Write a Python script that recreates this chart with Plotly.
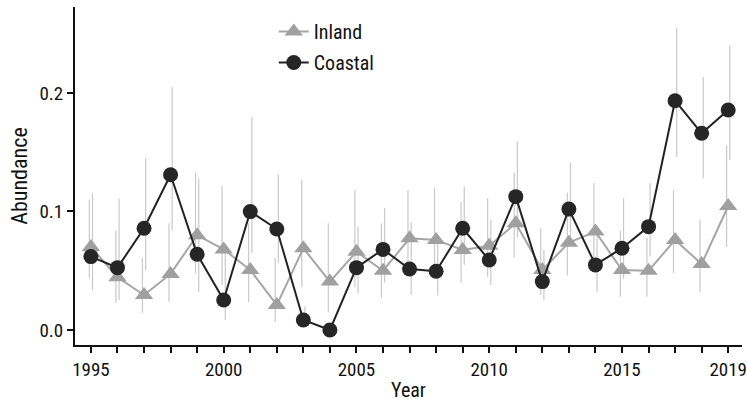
import plotly.graph_objects as go

years = list(range(1995, 2020))

inland = [0.070, 0.0445, 0.0295, 0.0473, 0.080, 0.068, 0.0506, 0.021, 0.069, 0.0408,
          0.066, 0.050, 0.0774, 0.076, 0.0675, 0.071, 0.090, 0.0506, 0.0737, 0.083,
          0.0506, 0.050, 0.076, 0.0557, 0.1046]
inland_hi = [0.110, 0.084, 0.061, 0.090, 0.133, 0.122, 0.090, 0.061, 0.127, 0.090,
             0.118, 0.090, 0.118, 0.120, 0.108, 0.111, 0.133, 0.086, 0.116, 0.124,
             0.084, 0.078, 0.118, 0.093, 0.156]
inland_lo = [0.044, 0.023, 0.0143, 0.0236, 0.048, 0.038, 0.0236, 0.0068, 0.036, 0.015,
             0.036, 0.027, 0.050, 0.045, 0.040, 0.045, 0.061, 0.0295, 0.046, 0.050,
             0.028, 0.028, 0.048, 0.032, 0.070]

coastal = [0.0619, 0.0526, 0.0858, 0.131, 0.0639, 0.0253, 0.0999, 0.0852, 0.0084, 0.0,
           0.0526, 0.068, 0.0515, 0.0495, 0.0858, 0.059, 0.1125, 0.0408, 0.102, 0.0549,
           0.069, 0.0872, 0.1935, 0.166, 0.1857]
coastal_hi = [0.1156, 0.111, 0.145, 0.205, 0.128, 0.065, 0.180, 0.131, 0.020, 0.004,
              0.087, 0.103, 0.091, 0.075, 0.121, 0.093, 0.159, 0.0675, 0.141, 0.085,
              0.111, 0.124, 0.255, 0.2135, 0.240]
coastal_lo = [0.0338, 0.0253, 0.0506, 0.084, 0.032, 0.0084, 0.065, 0.0565, 0.003, 0.0,
              0.031, 0.040, 0.0295, 0.029, 0.055, 0.038, 0.0785, 0.025, 0.072, 0.032,
              0.043, 0.062, 0.146, 0.128, 0.1435]

x_tick_labels = {1995: "1995", 2000: "2000", 2005: "2005", 2010: "2010", 2015: "2015", 2019: "2019"}
y_tick_vals = [0.0, 0.1, 0.2]
y_tick_text = ["0.0", "0.1", "0.2"]

FONT = "Roboto Condensed, Liberation Sans Narrow, DejaVu Sans Condensed, sans-serif"
ERR = "#c9c9c9"
DODGE = 0.06

fig = go.Figure()

def err_trace(vals, hi, lo, dx):
    return go.Scatter(
        x=[y + dx for y in years], y=vals, mode="markers",
        marker=dict(size=1, color="rgba(0,0,0,0)"),
        error_y=dict(type="data", symmetric=False,
                     array=[h - v for h, v in zip(hi, vals)],
                     arrayminus=[v - l for v, l in zip(vals, lo)],
                     color=ERR, thickness=1.2, width=0),
        showlegend=False, hoverinfo="skip")

fig.add_trace(err_trace(inland, inland_hi, inland_lo, -DODGE))
fig.add_trace(err_trace(coastal, coastal_hi, coastal_lo, DODGE))

fig.add_trace(go.Scatter(
    x=years, y=inland, mode="lines+markers", name="Inland", legendgroup="a",
    line=dict(color="#a6a6a6", width=2),
    marker=dict(symbol="triangle-up", size=16, color="#a0a0a0")))
fig.add_trace(go.Scatter(
    x=years, y=coastal, mode="lines+markers", name="Coastal", legendgroup="b",
    line=dict(color="#222222", width=2),
    marker=dict(symbol="circle", size=15, color="#262626")))

fig.update_layout(
    width=747, height=402,
    margin=dict(l=75, r=0, t=7, b=57),
    plot_bgcolor="white", paper_bgcolor="white",
    font=dict(family=FONT, size=19, color="#111111"),
    legend=dict(x=0.298, y=0.985, xanchor="left", yanchor="top",
                font=dict(size=20), bgcolor="rgba(0,0,0,0)",
                tracegroupgap=2, traceorder="grouped"),
    xaxis=dict(range=[1994.4, 2019.52], showgrid=False, zeroline=False,
               showline=True, linecolor="#111111", linewidth=2,
               ticks="outside", ticklen=6, tickwidth=1.5, tickcolor="#111111",
               tickvals=years, ticktext=[x_tick_labels.get(y, "") for y in years],
               ticklabeloverflow="allow",
               title=dict(text="Year", font=dict(size=20), standoff=4)),
    yaxis=dict(range=[-0.0127, 0.2726], showgrid=False, zeroline=False,
               showline=True, linecolor="#111111", linewidth=2,
               ticks="outside", ticklen=6, tickwidth=1.5, tickcolor="#111111",
               tickvals=y_tick_vals, ticktext=y_tick_text,
               title=dict(text="Abundance", font=dict(size=22), standoff=6)),
)

fig.write_html("out.html")
